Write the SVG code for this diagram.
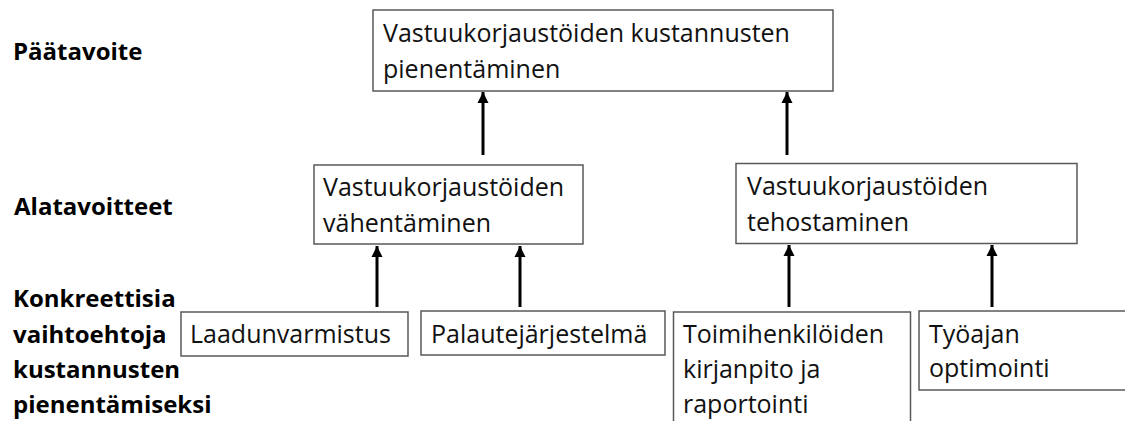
<svg xmlns="http://www.w3.org/2000/svg" width="1125" height="421" viewBox="0 0 1125 421">
<defs>
<marker id="ah" markerUnits="userSpaceOnUse" markerWidth="12" markerHeight="12" refX="11" refY="6" orient="auto">
<path d="M0,0.5 L11,6 L0,11.5 Z" fill="#000"/>
</marker>
<style>
.box{fill:#fff;stroke:#595959;stroke-width:1.5}
.t{font-family:"Open Sans","Noto Sans",sans-serif;font-size:25px;fill:#111}
.lbl{font-family:"Open Sans","Noto Sans",sans-serif;font-size:24px;font-weight:bold;fill:#000}
.arr{stroke:#000;stroke-width:3;fill:none;marker-end:url(#ah)}
</style>
</defs>
<rect width="1125" height="421" fill="#fff"/>
<g id="labels">
<text class="lbl" x="13" y="60">Päätavoite</text>
<text class="lbl" x="14" y="215">Alatavoitteet</text>
<text class="lbl" x="13" y="307">Konkreettisia</text>
<text class="lbl" x="13" y="343">vaihtoehtoja</text>
<text class="lbl" x="13" y="378">kustannusten</text>
<text class="lbl" x="13" y="413">pienentämiseksi</text>
</g>
<g id="connectors">
<line class="arr" x1="483" y1="155" x2="483" y2="92"/>
<line class="arr" x1="787" y1="155" x2="787" y2="92"/>
<line class="arr" x1="377" y1="307" x2="377" y2="246"/>
<line class="arr" x1="520" y1="307" x2="520" y2="246"/>
<line class="arr" x1="789" y1="307" x2="789" y2="245"/>
<line class="arr" x1="992" y1="307" x2="992" y2="245"/>
</g>
<g id="n-top">
<rect class="box" x="373" y="10" width="460" height="81"/>
<text class="t" x="383" y="42">Vastuukorjaustöiden kustannusten</text>
<text class="t" x="383" y="78">pienentäminen</text>
</g>
<g id="n-vahentaminen">
<rect class="box" x="314" y="165" width="269" height="79"/>
<text class="t" x="323" y="196">Vastuukorjaustöiden</text>
<text class="t" x="323" y="232">vähentäminen</text>
</g>
<g id="n-tehostaminen">
<rect class="box" x="736" y="163.5" width="341" height="80"/>
<text class="t" x="747" y="195">Vastuukorjaustöiden</text>
<text class="t" x="747" y="231">tehostaminen</text>
</g>
<g id="n-laadunvarmistus">
<rect class="box" x="181" y="312" width="227" height="44"/>
<text class="t" x="190" y="343">Laadunvarmistus</text>
</g>
<g id="n-palaute">
<rect class="box" x="421" y="311" width="244" height="44"/>
<text class="t" x="431" y="343">Palautejärjestelmä</text>
</g>
<g id="n-toimihenkilot">
<rect class="box" x="673.5" y="312" width="237" height="120"/>
<text class="t" x="683" y="343">Toimihenkilöiden</text>
<text class="t" x="683" y="378">kirjanpito ja</text>
<text class="t" x="683" y="413">raportointi</text>
</g>
<g id="n-tyoajan">
<rect class="box" x="919" y="311" width="220" height="79"/>
<text class="t" x="929" y="343">Työajan</text>
<text class="t" x="929" y="377">optimointi</text>
</g>
</svg>
